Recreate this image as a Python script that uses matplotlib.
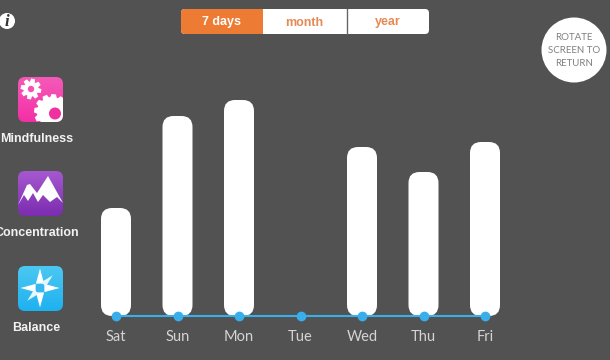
import numpy as np
import matplotlib
matplotlib.use("Agg")
import matplotlib.pyplot as plt
from matplotlib.patches import FancyBboxPatch, Circle, Polygon
from matplotlib.colors import LinearSegmentedColormap

DAYS = ["Sat", "Sun", "Mon", "Tue", "Wed", "Thu", "Fri"]
VALUES = [108, 200, 216, 0, 169, 144, 174]
TABS = ["7 days", "month", "year"]
SKILLS = ["Mindfulness", "Concentration", "Balance"]
ROTATE_TEXT = "ROTATE\nSCREEN TO\nRETURN"

BG = "#525252"
ORANGE = "#ee7b33"
TAB_TEXT = "#e58a55"
BLUE = "#38aeea"
DAY_TEXT = "#d4d4d4"

W, H = 610, 360
SPACING = 61.5   # pixels between days
FIRST_X = 116
BASE_Y = 316

fig = plt.figure(figsize=(W / 100, H / 100), dpi=100, facecolor=BG)

# overlay in pixel coords for the app chrome
ui = fig.add_axes([0, 0, 1, 1], zorder=1)
ui.axis("off")

# chart axes, one x unit = one day, one y unit = one pixel
ax = fig.add_axes([0, 0, 1, 1], zorder=2)
ax.patch.set_alpha(0)
ax.axis("off")
ax.set_xlim(-FIRST_X / SPACING, (W - FIRST_X) / SPACING)
ax.set_ylim(BASE_Y - H, BASE_Y)


def gear(cx, cy, r_out, r_in, teeth, rot=0.0):
    pts = []
    step = 2 * np.pi / teeth
    for i in range(teeth):
        a = rot + i * step
        for da, r in [(-0.30, r_in), (-0.17, r_out), (0.17, r_out), (0.30, r_in)]:
            pts.append((cx + r * np.cos(a + da * step * 1.4), cy + r * np.sin(a + da * step * 1.4)))
    return Polygon(pts, closed=True, fc="white", ec="none", zorder=4)


def icon(x0, y0, size, top, bottom):
    cmap = LinearSegmentedColormap.from_list("grad", [top, bottom])
    im = ui.imshow(np.linspace(0, 1, 64).reshape(-1, 1), cmap=cmap, aspect="auto",
                   extent=(x0, x0 + size, y0 + size, y0), zorder=3)
    clip = FancyBboxPatch((x0, y0), size, size, boxstyle="round,pad=0,rounding_size=7",
                          fc="none", ec="none", transform=ui.transData)
    ui.add_patch(clip)
    im.set_clip_path(clip)
    return clip


def blade(cx, cy, angle, length, base, spread, color):
    tip = (cx + length * np.cos(angle), cy + length * np.sin(angle))
    b1 = (cx + base * np.cos(angle + spread), cy + base * np.sin(angle + spread))
    b2 = (cx + base * np.cos(angle - spread), cy + base * np.sin(angle - spread))
    return Polygon([tip, b1, b2], closed=True, fc=color, ec="none", zorder=4)


# ── bars and line ────────────────────────────────────────────
xs = np.arange(len(DAYS))
bar_w = 30 / SPACING
for x, v in zip(xs, VALUES):
    if v > 0:
        ax.add_patch(FancyBboxPatch((x - bar_w / 2, 0), bar_w, v,
                                    boxstyle=f"round,pad=0,rounding_size={11 / SPACING}",
                                    mutation_aspect=SPACING, fc="white", ec="none", zorder=2))
ax.plot(xs, np.zeros(len(xs)), color=BLUE, lw=1.5, marker="o", ms=6, mec=BLUE, mfc=BLUE,
        zorder=3, clip_on=False)
for x, d in zip(xs, DAYS):
    ax.text(x, -25, d, ha="center", va="baseline", color=DAY_TEXT, fontsize=10.5,
            family="Lato", fontweight="normal")

# ── tabs ─────────────────────────────────────────────────────
tab_box = FancyBboxPatch((181, 9), 248, 25, boxstyle="round,pad=0,rounding_size=4",
                         fc="white", ec="none", zorder=2)
ui.add_patch(tab_box)
orange = plt.Rectangle((181, 9), 82, 25, fc=ORANGE, ec="none", zorder=3)
ui.add_patch(orange)
orange.set_clip_path(tab_box)
ui.plot([346.5, 346.5], [9, 34], color="#666666", lw=1, zorder=4)
for i, t in enumerate(TABS):
    ui.text(221 + i * 83.5, 25.5, t, ha="center", va="baseline", fontsize=9,
            family="Liberation Sans", fontweight="bold",
            color="white" if i == 0 else TAB_TEXT, zorder=5)

# ── info and rotate buttons ──────────────────────────────────
ui.add_patch(Circle((7, 21), 8, fc="white", ec="none", zorder=3))
ui.text(7, 21.5, "i", ha="center", va="center", fontsize=12, family="Liberation Serif",
        style="italic", fontweight="bold", color="#333333", zorder=4)
ui.add_patch(Circle((574, 50), 32.5, fc="white", ec="none", zorder=3))
ui.text(574, 50.5, ROTATE_TEXT, ha="center", va="center", fontsize=7, family="Lato",
        color="#808080", linespacing=1.5, zorder=4)

# ── skill icons ──────────────────────────────────────────────
c1 = icon(18, 77, 45, "#f45ab8", "#f52fa6")
g = gear(31, 89, 10.5, 7.5, 8, 0.2)
ui.add_patch(g)
g.set_clip_path(c1)
ui.add_patch(Circle((31, 89), 3.2, fc="#f552b4", ec="none", zorder=5))
g = gear(52, 112, 18, 15, 12, 0.1)
ui.add_patch(g)
g.set_clip_path(c1)
ui.add_patch(Circle((55, 113.5), 6, fc="#f02fa0", ec="none", zorder=5))

c2 = icon(18, 171, 45, "#a558cf", "#7c2db0")
m = Polygon([(18, 205), (27, 185), (30, 184), (37, 193), (48, 176), (63, 203),
             (57, 197), (50, 202), (43, 195), (38, 202), (33, 193), (28, 201), (24, 195)],
            closed=True, fc="white", ec="none", zorder=4)
ui.add_patch(m)
m.set_clip_path(c2)

c3 = icon(18, 266, 45, "#4cc8f2", "#1eb1f0")
cx, cy = 40, 288
for a in np.arange(4) * np.pi / 2:
    ui.add_patch(blade(cx, cy, a, 19.5, 6, 0.75, "white"))
for a in (-np.pi / 4, 3 * np.pi / 4):
    ui.add_patch(blade(cx, cy, a, 18, 6, 0.55, "#e6f8ff"))
ui.add_patch(Circle((cx, cy), 4, fc="#35b8ee", ec="none", zorder=5))

for label, y in zip(SKILLS, [142, 236.5, 331]):
    ui.text(36.5, y, label, ha="center", va="baseline", fontsize=9, family="Liberation Sans",
            fontweight="bold", color="#f2f2f2", zorder=5)

ui.set_xlim(0, W)
ui.set_ylim(H, 0)

fig.savefig("out.png", dpi=100, facecolor=BG)
